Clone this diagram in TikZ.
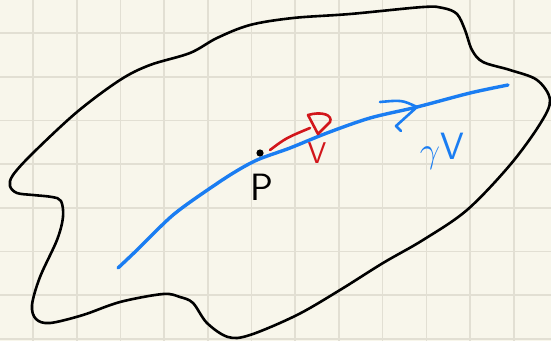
\documentclass[tikz,border=0pt]{standalone}
\usetikzlibrary{positioning,calc}
\definecolor{paper}{HTML}{F8F6EB}
\definecolor{gridline}{HTML}{E2DFD3}
\definecolor{curveblue}{HTML}{1A7DF2}
\definecolor{vecred}{HTML}{D2161B}

\begin{document}
\begin{tikzpicture}[x=1pt, y=-1pt,
  ink/.style={line width=2.6pt, line cap=round, line join=round},
  lbl/.style={inner sep=0pt, font=\fontsize{38}{38}\selectfont\sffamily}
]
  % Paper
  \fill[paper] (0,0) rectangle (551,341);
  \useasboundingbox (0,0) rectangle (551,341);
  \foreach \k in {0,...,11}
    \draw[gridline, line width=1.6pt] ({33+43.7*\k},0) -- ({33+43.7*\k},341);
  \foreach \k in {0,...,7}
    \draw[gridline, line width=1.6pt] (0,{33+43.7*\k}) -- (551,{33+43.7*\k});

  % Region
  \draw[ink, black] plot[smooth cycle, tension=0.55] coordinates {
    (150,65) (190,53) (217,38) (250,25) (293,18) (350,14) (423,7) (443,8)
    (457,14) (465,30) (472,50) (483,62) (510,70) (537,80) (550,100) (540,124)
    (510,165) (467,210) (423,240) (383,263) (340,290) (297,315) (250,335)
    (228,337) (207,323) (193,303) (180,297) (163,294) (120,302) (83,315)
    (50,323) (36,319) (32,305) (40,277) (57,240) (63,217) (61,201) (52,197)
    (33,195) (17,193) (10,186) (13,175) (33,153) (77,112) (120,80)};

  % Curve gamma_V
  \coordinate (gstart) at (118,268);
  \coordinate (gend) at (508,85);
  \draw[ink, curveblue, line width=3.4pt] plot[smooth] coordinates {
    (gstart) (137,250) (157,230) (173,215) (193,200) (230,175) (257,160)
    (290,148) (327,133) (370,118) (417,107) (470,93) (gend)};
  \coordinate (ghead) at (417,107);
  \draw[ink, curveblue] (380,102) .. controls (402,100) .. (ghead)
    -- (396,126) -- (401,131);
  \node[lbl, curveblue] (glabel) at (442,151) {\raisebox{-3pt}{\scalebox{1.45}{$\gamma$}}V};

  % Point P
  \coordinate (p) at (260,153);
  \fill (p) circle (3.6pt);
  \node[lbl] (plabel) at (262,187) {P};

  % Tangent vector
  \coordinate (vtail) at (270,150);
  \coordinate (vtip) at (310,128);
  \draw[ink, vecred] (vtail) .. controls (286,138) .. (vtip);
  \draw[ink, vecred] (308,115) .. controls (322,111) and (333,115) .. (330,122)
    -- (318,134) -- cycle;
  \node[lbl, vecred, font=\fontsize{30}{30}\selectfont\sffamily] (vlabel) at (317,153) {V};
\end{tikzpicture}
\end{document}
